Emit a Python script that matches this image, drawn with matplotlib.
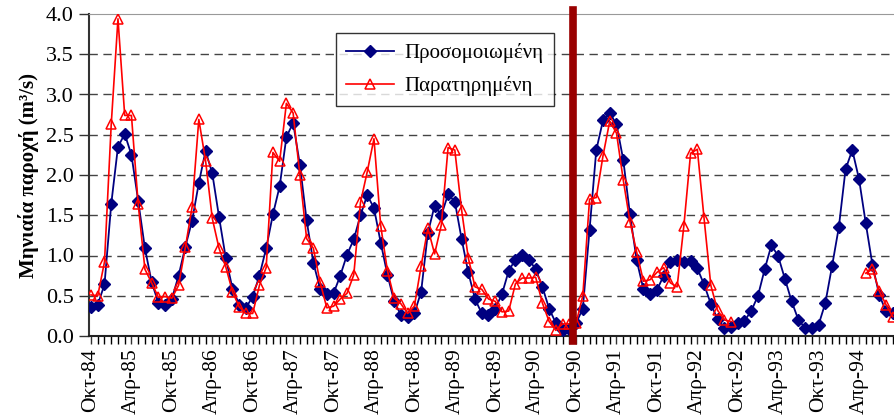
import numpy as np
import matplotlib.pyplot as plt
from matplotlib.ticker import MultipleLocator, FixedLocator

plt.rcParams['font.family'] = ['Liberation Serif', 'DejaVu Serif']

# monthly discharge (m3/s), Oct-84 .. Sep-94
simulated = [0.36, 0.39, 0.64, 1.64, 2.35, 2.51, 2.25, 1.68, 1.09, 0.67, 0.41, 0.38,
             0.46, 0.75, 1.11, 1.43, 1.90, 2.30, 2.02, 1.48, 0.97, 0.59, 0.39, 0.35,
             0.49, 0.75, 1.09, 1.51, 1.86, 2.47, 2.65, 2.13, 1.44, 0.91, 0.59, 0.52,
             0.53, 0.75, 1.01, 1.20, 1.50, 1.75, 1.59, 1.16, 0.76, 0.43, 0.26, 0.23,
             0.28, 0.55, 1.28, 1.62, 1.50, 1.76, 1.67, 1.21, 0.79, 0.46, 0.28, 0.26,
             0.34, 0.52, 0.81, 0.95, 1.01, 0.95, 0.83, 0.61, 0.34, 0.16, 0.07, 0.09,
             0.16, 0.34, 1.32, 2.31, 2.68, 2.77, 2.63, 2.19, 1.51, 0.94, 0.58, 0.52,
             0.57, 0.75, 0.92, 0.95, 0.92, 0.93, 0.84, 0.64, 0.40, 0.21, 0.10, 0.11,
             0.16, 0.19, 0.31, 0.50, 0.83, 1.13, 0.99, 0.71, 0.43, 0.20, 0.10, 0.10,
             0.14, 0.41, 0.87, 1.35, 2.07, 2.31, 1.95, 1.40, 0.88, 0.51, 0.31, 0.28]

nan = np.nan
observed = [0.51, 0.50, 0.92, 2.63, 3.94, 2.74, 2.74, 1.64, 0.83, 0.66, 0.48, 0.49,
            0.47, 0.63, 1.10, 1.60, 2.69, 2.18, 1.46, 1.09, 0.86, 0.55, 0.36, 0.28,
            0.28, 0.63, 0.85, 2.28, 2.17, 2.89, 2.77, 2.00, 1.21, 1.09, 0.67, 0.35,
            0.37, 0.46, 0.53, 0.76, 1.66, 2.04, 2.45, 1.37, 0.81, 0.47, 0.40, 0.28,
            0.37, 0.87, 1.34, 1.02, 1.38, 2.34, 2.31, 1.57, 0.97, 0.61, 0.58, 0.46,
            0.43, 0.30, 0.31, 0.65, 0.72, 0.72, 0.73, 0.41, 0.18, 0.07, 0.15, 0.15,
            0.16, 0.50, 1.70, 1.72, 2.24, 2.67, 2.52, 1.94, 1.42, 1.04, 0.68, 0.70,
            0.79, 0.85, 0.66, 0.61, 1.37, 2.27, 2.32, 1.46, 0.63, 0.32, 0.20, 0.18,
            nan, nan, nan, nan, nan, nan, nan, nan, nan, nan, nan, nan,
            nan, nan, nan, nan, nan, nan, nan, 0.78, 0.83, 0.56, 0.39, 0.24]

month_labels = ['Οκτ-84', 'Απρ-85', 'Οκτ-85', 'Απρ-86', 'Οκτ-86', 'Απρ-87',
                'Οκτ-87', 'Απρ-88', 'Οκτ-88', 'Απρ-89', 'Οκτ-89', 'Απρ-90',
                'Οκτ-90', 'Απρ-91', 'Οκτ-91', 'Απρ-92', 'Οκτ-92', 'Απρ-93',
                'Οκτ-93', 'Απρ-94']
split_month = 71.5  # calibration / validation boundary

xx = np.arange(len(simulated))

fig = plt.figure(figsize=(8.95, 4.19), dpi=100)
ax = fig.add_axes([89/895, 83/419, 1 - 89/895, 322/419])

for y in np.arange(0.5, 4.0, 0.5):
    ax.axhline(y, color='#444444', lw=1, ls=(0, (6, 4)), zorder=0)

ax.plot(xx, simulated, color='#000080', lw=1.3, marker='D', ms=5.8,
        label='Προσομοιωμένη', zorder=3)
ax.plot(xx, observed, color='#ff0000', lw=1.2, marker='^', ms=7,
        mfc='none', mew=1.1, label='Παρατηρημένη', zorder=4)

ax.axvline(split_month, ymin=-0.016, ymax=1.012, color='#990000', lw=5.5,
           clip_on=False, zorder=5)

ax.set_xlim(-0.3, 119.34)
ax.set_ylim(0, 4.0)
ax.yaxis.set_major_locator(MultipleLocator(0.5))
ax.yaxis.set_major_formatter(lambda v, p: f'{v:.1f}')
ax.xaxis.set_major_locator(FixedLocator(np.arange(0, 120, 6)))
ax.xaxis.set_minor_locator(FixedLocator(np.arange(0, 120, 1)))
ax.set_xticklabels(month_labels, rotation=90)
ax.tick_params(axis='both', labelsize=16, color='#333333', direction='out')
ax.tick_params(axis='x', which='both', length=6, width=1, pad=3, labelsize=15.5)
ax.tick_params(axis='y', length=7, width=1, pad=4)

ax.spines['right'].set_visible(False)
ax.spines['top'].set_color('#999999')
ax.spines['left'].set_color('#333333')
ax.spines['left'].set_linewidth(1.5)
ax.spines['bottom'].set_color('#222222')
ax.spines['bottom'].set_linewidth(1.5)

ax.set_ylabel('Μηνιαία παροχή (m³/s)', fontsize=15, fontweight='bold', labelpad=5)

leg = ax.legend(loc='upper left', bbox_to_anchor=(247/806, 1 - 19/322),
                borderaxespad=0, fontsize=15, frameon=True, fancybox=False,
                edgecolor='black', borderpad=0.5, labelspacing=0.6,
                handlelength=2.3, handletextpad=0.5)
leg.get_frame().set_linewidth(1.0)

fig.savefig('out.png', dpi=100)
